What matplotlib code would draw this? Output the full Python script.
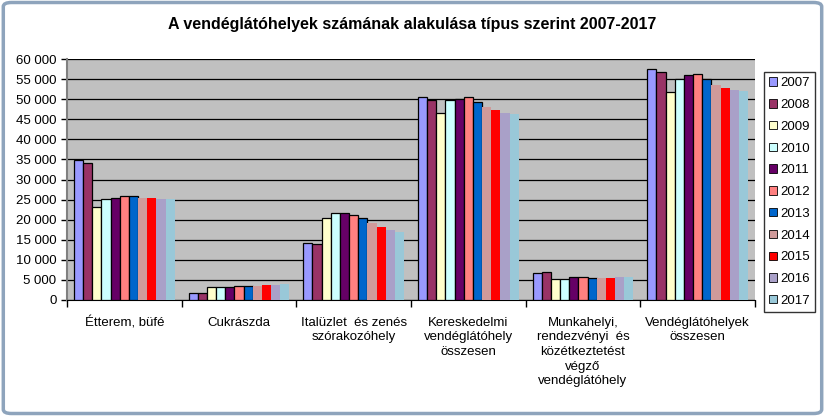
import numpy as np
import matplotlib
matplotlib.use('Agg')
import matplotlib.pyplot as plt
from matplotlib.patches import FancyBboxPatch
from matplotlib.ticker import FuncFormatter, MultipleLocator

plt.rcParams['font.family'] = ['Liberation Sans', 'DejaVu Sans']

categories = ["Étterem, büfé", "Cukrászda", "Italüzlet  és zenés\nszórakozóhely",
              "Kereskedelmi\nvendéglátóhely\nösszesen",
              "Munkahelyi,\nrendezvényi  és\nközétkeztetést\nvégző\nvendéglátóhely",
              "Vendéglátóhelyek\nösszesen"]
years = ["2007", "2008", "2009", "2010", "2011", "2012", "2013", "2014", "2015", "2016", "2017"]

# values per year, one entry per category
v2007 = [34800, 1700, 14100, 50450, 6650, 57400]
v2008 = [34000, 1700, 13850, 49800, 6900, 56650]
v2009 = [23100, 3150, 20300, 46650, 5300, 51850]
v2010 = [25100, 3150, 21600, 49800, 5300, 55100]
v2011 = [25300, 3200, 21600, 49950, 5650, 56000]
v2012 = [26000, 3500, 21100, 50450, 5650, 56200]
v2013 = [25800, 3450, 20300, 49400, 5400, 54950]
v2014 = [25400, 3500, 19250, 48100, 5500, 53500]
v2015 = [25400, 3750, 18250, 47300, 5500, 52800]
v2016 = [25100, 3750, 17400, 46650, 5650, 52300]
v2017 = [25100, 4000, 17000, 46300, 5800, 52000]
series = [v2007, v2008, v2009, v2010, v2011, v2012, v2013, v2014, v2015, v2016, v2017]

colors = ['#9999FF', '#993366', '#FFFFCC', '#CCFFFF', '#660066', '#FF8080',
          '#0066CC', '#D09A9A', '#FF0000', '#A9A0C8', '#99C8D8']
edges = ['black'] * 7 + ['none'] * 4

fig = plt.figure(figsize=(8.25, 4.16), dpi=100)
fig.patches.append(FancyBboxPatch((0.004, 0.006), 0.992, 0.988,
                                  boxstyle="round,pad=0,rounding_size=0.01",
                                  transform=fig.transFigure, fill=False,
                                  edgecolor='#8EA4BC', linewidth=2.5))

ax = fig.add_axes([67 / 825, 1 - 300 / 416, 688 / 825, 241 / 416])
ax.set_facecolor('#C0C0C0')

x = np.arange(len(categories))
n = len(years)
w = 0.08
for i, (vals, c, e) in enumerate(zip(series, colors, edges)):
    ax.bar(x - w * n / 2 + w * (i + 0.5), vals, width=w, color=c,
           edgecolor=e, linewidth=0.9, label=years[i], zorder=3)

ax.set_xlim(-0.5, len(categories) - 0.5)
ax.set_ylim(0, 60000)
ax.yaxis.set_major_locator(MultipleLocator(5000))
ax.yaxis.set_major_formatter(FuncFormatter(lambda v, p: f"{int(v):,}".replace(",", " ")))
ax.grid(axis='y', color='black', linewidth=0.9, zorder=1)

ax.set_xticks(x)
ax.set_xticklabels(categories, fontsize=9.5, va='top', linespacing=1.3)
ax.tick_params(axis='x', length=0, pad=12)
ax.set_xticks(np.arange(-0.5, len(categories)), minor=True)
ax.tick_params(axis='x', which='minor', length=5, width=1, color='black')
ax.tick_params(axis='y', labelsize=9.5, length=4, width=1, color='black')

for s in ['top', 'right']:
    ax.spines[s].set_visible(False)
ax.spines['left'].set_color('#808080')
ax.spines['left'].set_linewidth(1.5)
ax.spines['bottom'].set_color('black')

fig.text(0.5, 1 - 25 / 416, "A vendéglátóhelyek számának alakulása típus szerint 2007-2017",
         ha='center', va='center', fontsize=11.5, fontweight='bold')

leg = fig.legend(loc='upper left', bbox_to_anchor=(764 / 825, 1 - 72 / 416),
                 frameon=True, fancybox=False, edgecolor='black',
                 fontsize=9.5, handlelength=0.6, handleheight=0.6,
                 handletextpad=0.2, labelspacing=0.74, borderpad=0.4,
                 borderaxespad=0)
leg.get_frame().set_linewidth(1)
for h in leg.legend_handles:
    h.set_edgecolor('black')
    h.set_linewidth(0.6)

fig.savefig('out.png', dpi=100)
